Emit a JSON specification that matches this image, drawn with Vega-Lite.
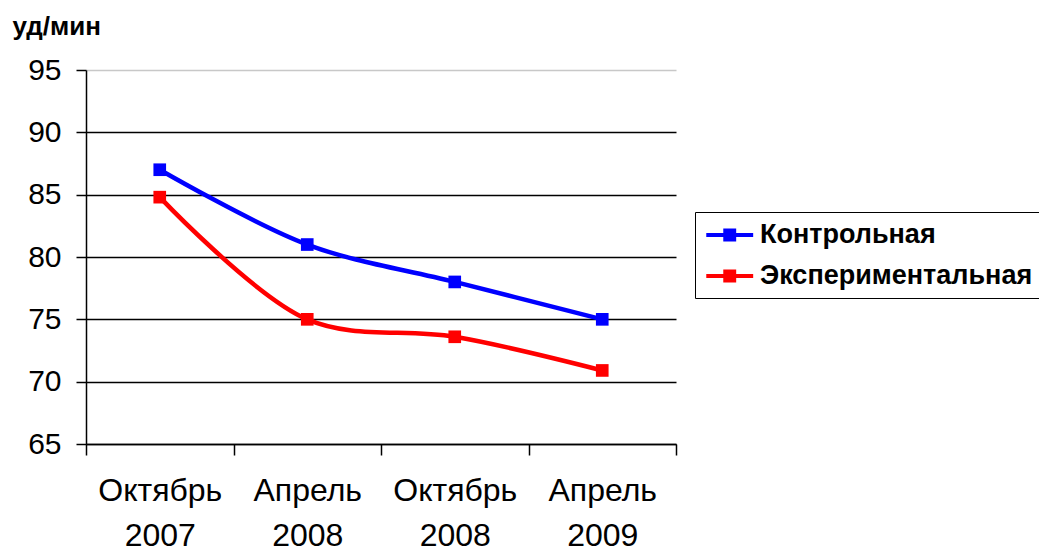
{
  "$schema": "https://vega.github.io/schema/vega-lite/v6.json",
  "width": 590,
  "height": 374,
  "autosize": {"type": "none"},
  "padding": {"left": 86, "top": 70, "right": 363, "bottom": 108},
  "background": "white",
  "config": {
    "view": {"stroke": null},
    "font": "Liberation Sans"
  },
  "data": {
    "values": [
      {"period": "Октябрь 2007", "group": "Контрольная", "hr": 87.0},
      {"period": "Апрель 2008", "group": "Контрольная", "hr": 81.0},
      {"period": "Октябрь 2008", "group": "Контрольная", "hr": 78.0},
      {"period": "Апрель 2009", "group": "Контрольная", "hr": 75.0},
      {"period": "Октябрь 2007", "group": "Экспериментальная", "hr": 84.8},
      {"period": "Апрель 2008", "group": "Экспериментальная", "hr": 75.0},
      {"period": "Октябрь 2008", "group": "Экспериментальная", "hr": 73.6},
      {"period": "Апрель 2009", "group": "Экспериментальная", "hr": 70.9}
    ]
  },
  "encoding": {
    "x": {
      "field": "period",
      "type": "nominal",
      "sort": null,
      "scale": {"type": "band", "paddingInner": 0, "paddingOuter": 0},
      "axis": {
        "title": null,
        "labelAngle": 0,
        "labelExpr": "split(datum.label, ' ')",
        "labelFontSize": 32,
        "labelColor": "black",
        "labelLineHeight": 45,
        "labelPadding": 20,
        "labelBaseline": "top",
        "labelLimit": 300,
        "tickBand": "extent",
        "tickSize": 11,
        "tickColor": "black",
        "tickWidth": 1.5,
        "domainColor": "black",
        "domainWidth": 1.5,
        "grid": false
      }
    },
    "y": {
      "field": "hr",
      "type": "quantitative",
      "scale": {"domain": [65, 95], "nice": false, "zero": false},
      "axis": {
        "title": "уд/мин",
        "titleAngle": 0,
        "titleAlign": "left",
        "titleBaseline": "alphabetic",
        "titleX": -74,
        "titleY": -36,
        "titleFontSize": 26,
        "titleFontWeight": "bold",
        "titleColor": "black",
        "values": [65, 70, 75, 80, 85, 90, 95],
        "labelFontSize": 30,
        "labelColor": "black",
        "labelPadding": 15,
        "tickSize": 10,
        "tickColor": "black",
        "tickWidth": 1.5,
        "domainColor": "black",
        "domainWidth": 1.5,
        "grid": true,
        "gridColor": {"condition": {"test": "datum.value == 95", "value": "#c8c8c8"}, "value": "black"},
        "gridWidth": 1.5,
        "gridOpacity": 1
      }
    },
    "color": {
      "field": "group",
      "type": "nominal",
      "sort": null,
      "scale": {"domain": ["Контрольная", "Экспериментальная"], "range": ["#0000ff", "#ff0000"]},
      "legend": {
        "title": null,
        "orient": "none",
        "legendX": 609,
        "legendY": 142,
        "strokeColor": "black",
        "fillColor": "white",
        "padding": 9,
        "labelFontSize": 27,
        "labelFontWeight": "bold",
        "labelColor": "black",
        "labelLimit": 500,
        "labelOffset": 28,
        "rowPadding": 14,
        "symbolType": "M-1,0H3M0.62,-0.38H1.38V0.38H0.62Z",
        "symbolSize": 550,
        "symbolStrokeWidth": 4,
        "encode": {
          "symbols": {"update": {"fill": {"scale": "color", "field": "value"}, "fillOpacity": {"value": 1}}}
        }
      }
    }
  },
  "layer": [
    {"mark": {"type": "line", "interpolate": "catmull-rom", "strokeWidth": 4.5}},
    {"mark": {"type": "point", "shape": "square", "filled": true, "size": 160, "opacity": 1}}
  ]
}
